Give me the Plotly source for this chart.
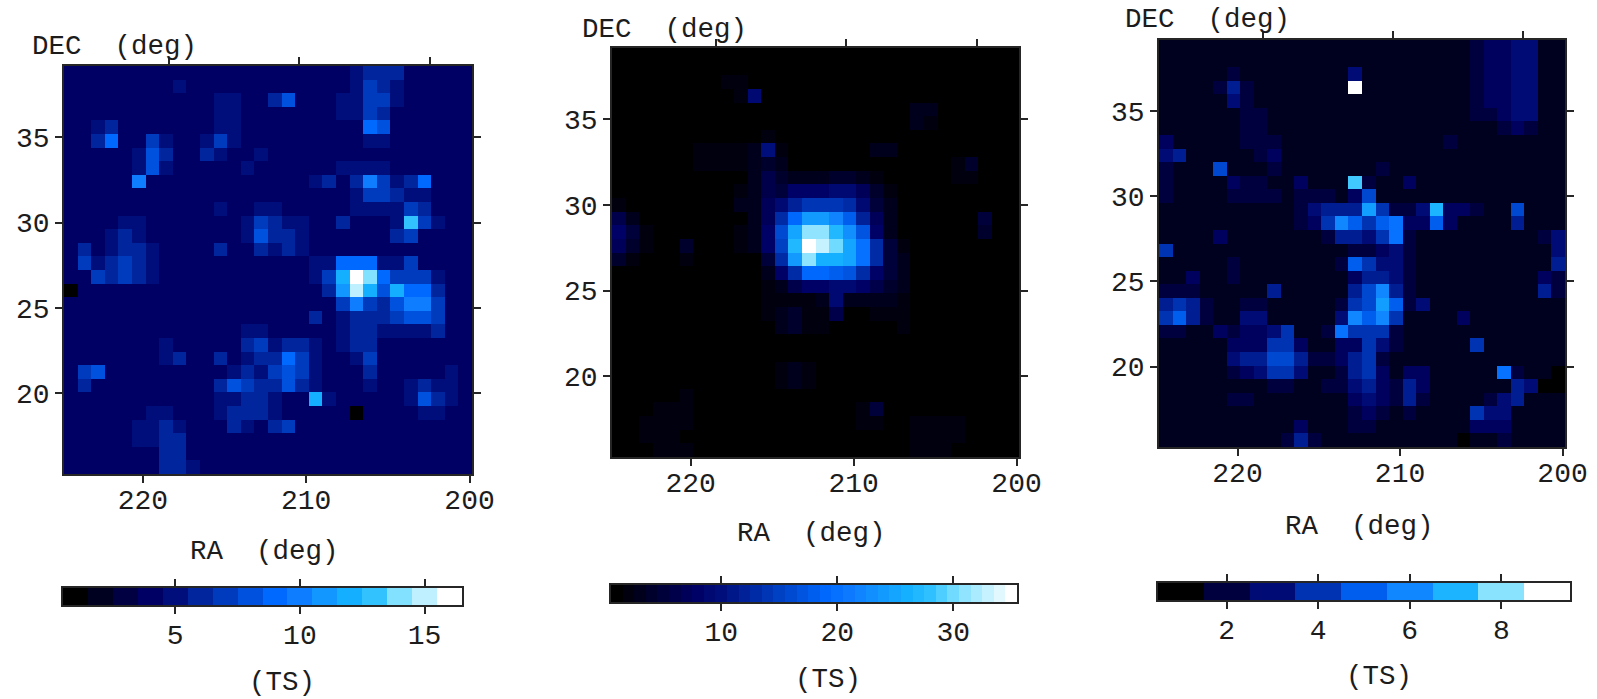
import plotly.graph_objects as go

# TS maps, one base-36 character per cell, rows run from high DEC to low DEC,
# columns from high RA to low RA.
ts_left = """
44444 44444 44444 44444 45666 44444
44444 44454 44444 44444 45765 44444
44444 44444 45544 68444 55775 44444
44444 44444 45544 44444 55764 44444
44564 44444 45544 44444 44984 44444
44694 47544 57544 44444 44554 44444
44444 58644 65445 44444 44444 44444
44444 58544 44454 44444 55554 44444
44444 a4444 44444 44456 46a75 69444
44444 44444 44444 44444 45776 55444
44444 44444 45445 54444 45555 76444
44445 54444 44457 65544 64445 d7544
44456 54444 44458 66544 44446 74444
46456 65444 46446 56544 44444 44444
47567 65444 44444 44455 99955 74444
44767 65444 44444 44457 cge97 77544
14444 44444 44444 44446 bfc8c 99644
44444 44444 44444 44444 7a768 aa744
44444 44444 44444 44464 56667 88744
44444 44444 44455 44444 56655 55644
44444 44544 44467 56654 56644 44444
44444 44564 46456 69754 45744 44444
47844 44444 44565 78754 44644 44454
46444 44444 46876 68654 44544 56554
44444 44444 45566 544c5 44444 58654
44444 45544 45666 54444 41444 45544
44444 55654 44654 67444 44444 44444
44444 55664 44444 44444 44444 44444
44444 44664 44444 44444 44444 44444
44444 44665 44444 44444 44444 44444
"""
ts_middle = """
11111 11111 11111 11111 11111 11111
11111 11111 11111 11111 11111 11111
11111 11122 11111 11111 11111 11111
11111 11112 91111 11111 11111 11111
11111 11111 11111 11111 11331 11111
11111 11111 11111 11111 11321 11111
11111 11111 12111 11111 11111 11111
11111 12222 3a211 11113 31111 11111
11111 12222 34311 11111 11111 24111
11111 11111 36433 34432 11111 22111
11111 11112 36588 89974 21111 11111
21111 11113 379ce eed95 31111 11111
63111 11111 37djo omic7 31111 11511
85211 11112 38gpv vrnh8 31111 11411
74211 41112 38frz xupkd 52111 11111
42111 21111 15dov qqpkd 53111 11111
11111 11111 138dj jihd8 53111 11111
11111 11111 12368 89986 43111 11111
11111 11111 12222 39333 32111 11111
11111 11111 12342 26112 22111 11111
11111 11111 11342 21111 12111 11111
11111 11111 11111 11111 11111 11111
11111 11111 11111 11111 11111 11111
11111 11111 11232 11111 11111 11111
11111 11111 11232 11111 11111 11111
11111 21111 11111 11111 11111 11111
11122 21111 11111 11125 11111 11111
11222 21111 11111 11122 11222 21111
11222 11111 11111 11111 11222 21111
11122 21111 11111 11111 11222 11111
"""
# Right map: characters hold twice the TS value (half steps).
ts_right_doubled = """
33333 33333 33333 33333 33345 56633
33333 33333 33333 33333 33345 56633
33333 43333 33336 33333 33345 56633
33334 74333 3333i 33333 33345 56633
33333 64333 33333 33333 33345 56633
33333 34433 33333 33333 33344 56633
33333 34433 33333 33333 33333 45433
53333 34443 33333 33333 34333 33333
67333 33453 33333 33333 33333 33333
43339 33343 33333 34333 33333 33333
43333 54433 5333f 43353 33333 33333
43333 44443 44435 93333 33333 33333
33333 33333 46777 d8446 e5543 39333
33333 33333 458ca 8ab55 a5333 37333
33335 33333 33477 68b43 33333 33346
83333 33333 33334 45643 33333 33336
33333 43333 3334a 86643 33333 33337
33533 43333 33335 77643 33333 33354
44433 33373 33337 9c743 33333 33374
78743 34433 33348 9da46 33333 33333
8a743 36633 3336c ac833 33533 33333
44335 45568 334b8 88433 33333 33333
33333 55588 53355 86433 33383 33333
33333 67799 74457 84333 33333 33333
33333 45688 63347 85355 33333 b4332
33333 33344 33446 75475 33333 37622
33333 44333 33335 65474 33334 67333
33333 33333 33334 54343 33386 63333
33333 33333 53334 43333 33355 53333
33333 33334 74333 33333 33233 43333
"""

ra_ticks = [220, 210, 200]
ra_top_ticks = [218.43, 210.45, 202.45]
dec_ticks = [35, 30, 25, 20]
scale_ticks = [[5, 10, 15], [10, 20, 30], [2, 4, 6, 8]]
level_counts = [16, 35, 9]
ra_limits = [224.83, 199.85]
dec_limits = [39.17, 15.28]

# Colour ramp of the scale bars
ramp = [
    [0.0, "rgb(0,0,0)"], [0.2, "rgb(0,0,100)"], [0.27, "rgb(0,15,125)"],
    [0.533, "rgb(0,105,255)"], [0.6, "rgb(15,125,255)"], [0.733, "rgb(20,175,255)"],
    [0.8, "rgb(50,195,255)"], [0.867, "rgb(130,225,255)"], [0.933, "rgb(190,240,255)"],
    [1.0, "rgb(255,255,255)"],
]


def decode(text, divisor=1):
    rows = []
    for line in text.split("\n"):
        cells = line.replace(" ", "")
        if cells:
            assert len(cells) == 30
            rows.append([int(c, 36) / divisor for c in cells])
    assert len(rows) == 30
    return rows


maps = [decode(ts_left), decode(ts_middle), decode(ts_right_doubled, 2)]

W, H = 1597, 699
map_boxes = [(64, 472, 66, 474), (612, 1019, 48, 457), (1159, 1565, 40, 447)]
bar_boxes = [(63, 462, 588, 605), (611, 1017, 585, 602), (1158, 1570, 583, 600)]
dec_labels = [(114, 46), (664, 29), (1207, 19)]
ra_labels = [(264, 551), (811, 533), (1359, 526)]
ts_labels = [(282, 682), (828, 679), (1379, 676)]

FONT = "Liberation Mono"
INK = "#1c1c1c"
LINE = "#262626"
TICK = dict(ticks="outside", ticklen=7, tickwidth=1.5, tickcolor=LINE, automargin=False,
            showline=True, linecolor=LINE, linewidth=1.5, showgrid=False, zeroline=False,
            tickfont=dict(family=FONT, size=28, color=INK))

fig = go.Figure()
layout = dict(width=W, height=H, autosize=False, margin=dict(l=0, r=0, t=0, b=0),
              paper_bgcolor="white", plot_bgcolor="white", showlegend=False,
              font=dict(family=FONT, color=INK))
notes = []


def note(text, pos):
    notes.append(dict(text=text, x=pos[0] / W, y=1 - pos[1] / H, xref="paper", yref="paper",
                      showarrow=False, xanchor="center", yanchor="middle",
                      font=dict(family=FONT, size=27.5, color=INK)))


for i in range(3):
    n = level_counts[i]
    base = i * 3 + 1
    xm, ym, xb, yb, xt = base, base, base + 1, base + 1, base + 2
    name = lambda a, k: a if k == 1 else f"{a}{k}"
    left, right, top, bottom = map_boxes[i]
    dx = (ra_limits[1] - ra_limits[0]) / 30
    dy = (dec_limits[1] - dec_limits[0]) / 30

    fig.add_trace(go.Heatmap(z=maps[i], x0=ra_limits[0] + dx / 2, dx=dx,
                             y0=dec_limits[0] + dy / 2, dy=dy,
                             colorscale=ramp, zmin=1, zmax=n, showscale=False,
                             zsmooth=False, xaxis=name("x", xm), yaxis=name("y", ym)))
    layout[f"xaxis{xm}"] = dict(domain=[left / W, right / W], range=ra_limits, anchor=name("y", ym),
                                tickvals=ra_ticks, mirror=True, ticklabelstandoff=-7, **TICK)
    layout[f"yaxis{ym}"] = dict(domain=[1 - bottom / H, 1 - top / H], range=dec_limits[::-1],
                                anchor=name("x", xm), tickvals=dec_ticks, mirror="ticks", **TICK)

    # Second RA scale: ticks only, along the top edge
    fig.add_trace(go.Scatter(x=[], y=[], xaxis=name("x", xt), yaxis=name("y", ym), hoverinfo="skip"))
    layout[f"xaxis{xt}"] = dict(overlaying=name("x", xm), side="top", range=ra_limits,
                                anchor=name("y", ym), tickvals=ra_top_ticks,
                                showticklabels=False, **{k: v for k, v in TICK.items()
                                                         if k != "tickfont"})

    # Scale bar
    levels = list(range(1, n + 1))
    bl, br, bt, bb = bar_boxes[i]
    fig.add_trace(go.Heatmap(z=[levels], x=levels, y=[0], colorscale=ramp, zmin=1, zmax=n,
                             showscale=False, xaxis=f"x{xb}", yaxis=f"y{yb}"))
    layout[f"xaxis{xb}"] = dict(domain=[bl / W, br / W], range=[0.5, n + 0.5], anchor=f"y{yb}",
                                tickvals=scale_ticks[i], mirror="ticks", ticklabelstandoff=-3, **TICK)
    layout[f"yaxis{yb}"] = dict(domain=[1 - bb / H, 1 - bt / H], range=[-0.5, 0.5], anchor=f"x{xb}",
                                showticklabels=False, ticks="", showline=True, linecolor=LINE,
                                automargin=False, linewidth=2, mirror=True, showgrid=False,
                                zeroline=False)

    note("DEC  (deg)", dec_labels[i])
    note("RA  (deg)", ra_labels[i])
    note("(TS)", ts_labels[i])

fig.update_layout(annotations=notes, **layout)
fig.write_html("out.html", config=dict(displayModeBar=False),
               post_script="document.body.style.margin='0';")
